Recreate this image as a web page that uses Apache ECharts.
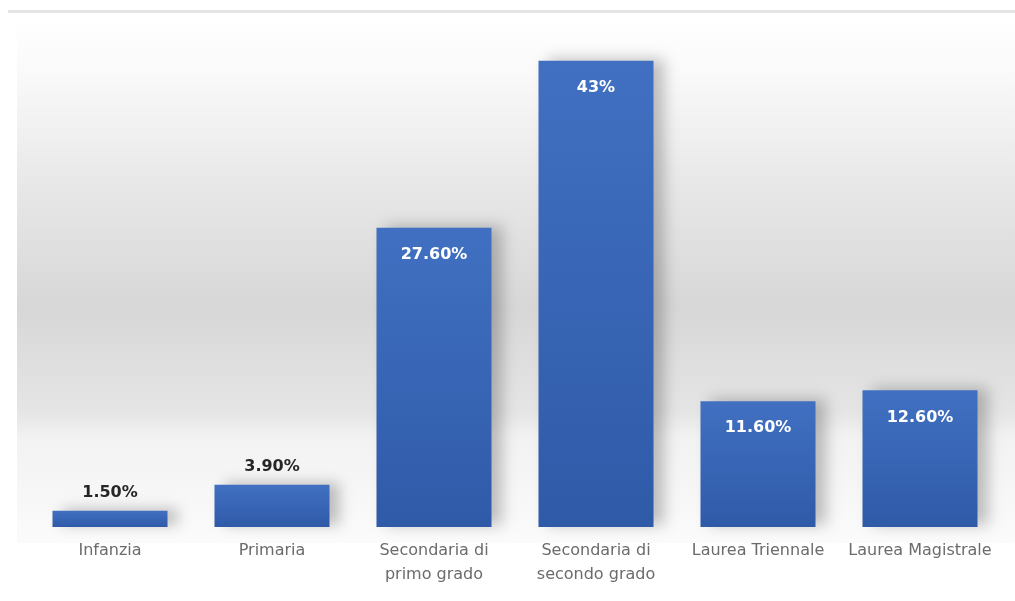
<!DOCTYPE html>
<html>
<head>
<meta charset="utf-8">
<script src="https://cdn.jsdelivr.net/npm/echarts@6/dist/echarts.min.js"></script>
<style>
  html, body { margin: 0; padding: 0; background: #ffffff; }
  #chart { width: 1015px; height: 601px; }
</style>
</head>
<body>
<div id="chart"></div>
<script>
// Livello di istruzione (percentuali)
const categories = [
  'Infanzia',
  'Primaria',
  'Secondaria di\nprimo grado',
  'Secondaria di\nsecondo grado',
  'Laurea Triennale',
  'Laurea Magistrale'
];
const values = [1.5, 3.9, 27.6, 43, 11.6, 12.6];
const valueLabels = ['1.50%', '3.90%', '27.60%', '43%', '11.60%', '12.60%'];
// small bars carry their label above, tall bars inside the top
const labelOutside = [true, true, false, false, false, false];

const barFill = {
  type: 'linear', x: 0, y: 0, x2: 0, y2: 1,
  colorStops: [
    { offset: 0, color: '#4170c2' },
    { offset: 1, color: '#2f5aa8' }
  ]
};

const chart = echarts.init(document.getElementById('chart'));

const seriesData = values.map((v, i) => ({
  value: v,
  label: labelOutside[i]
    ? { position: 'top', distance: 10, color: '#262626' }
    : { position: 'insideTop', distance: 19, color: '#ffffff' }
}));

chart.setOption({
  animation: false,
  backgroundColor: '#ffffff',
  graphic: [
    {
      type: 'rect',
      z: -10,
      silent: true,
      shape: { x: 17, y: 18, width: 998, height: 525 },
      style: {
        fill: {
          type: 'linear', x: 0, y: 0, x2: 0, y2: 1,
          colorStops: [
            { offset: 0, color: '#ffffff' },
            { offset: 0.1, color: '#fafafa' },
            { offset: 0.3, color: '#e9e9e9' },
            { offset: 0.55, color: '#d7d7d7' },
            { offset: 0.75, color: '#e5e5e5' },
            { offset: 0.8, color: '#f2f2f2' },
            { offset: 1, color: '#fbfbfb' }
          ]
        }
      }
    },
    {
      type: 'rect',
      z: -9,
      silent: true,
      shape: { x: 8, y: 10, width: 1007, height: 3 },
      style: { fill: '#e4e4e4' }
    }
  ],
  grid: { left: 29, right: 14, top: 39, bottom: 74, containLabel: false },
  xAxis: {
    type: 'category',
    data: categories,
    axisLine: { show: false },
    axisTick: { show: false },
    axisLabel: {
      color: '#6b6b6b',
      fontFamily: 'DejaVu Sans',
      fontSize: 16,
      lineHeight: 24,
      margin: 12,
      interval: 0
    }
  },
  yAxis: {
    type: 'value',
    min: 0,
    max: 45,
    show: false,
    splitLine: { show: false }
  },
  series: [{
    type: 'bar',
    data: seriesData,
    barCategoryGap: '29%',
    itemStyle: {
      color: barFill,
      shadowColor: 'rgba(0,0,0,0.24)',
      shadowBlur: 14,
      shadowOffsetX: 10,
      shadowOffsetY: -2
    },
    label: {
      show: true,
      fontFamily: 'DejaVu Sans',
      fontWeight: 'bold',
      fontSize: 16,
      formatter: (p) => valueLabels[p.dataIndex]
    }
  }]
});
</script>
</body>
</html>
